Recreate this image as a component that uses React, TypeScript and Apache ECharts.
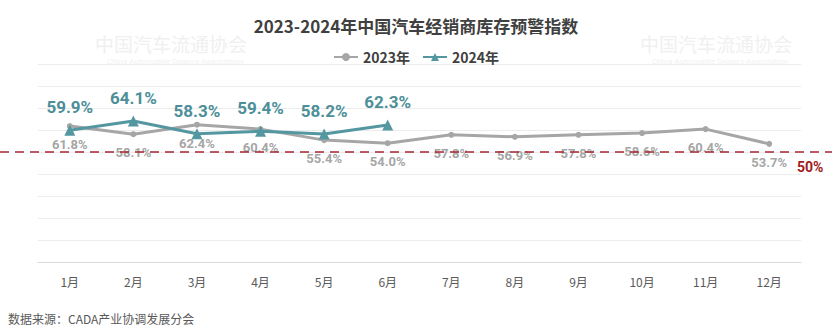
import React, { useEffect, useRef } from "react";
import * as echarts from "echarts";

const categories = ["1月", "2月", "3月", "4月", "5月", "6月", "7月", "8月", "9月", "10月", "11月", "12月"];
const values2023 = [61.8, 58.1, 62.4, 60.4, 55.4, 54.0, 57.8, 56.9, 57.8, 58.6, 60.4, 53.7];
const values2024 = [59.9, 64.1, 58.3, 59.4, 58.2, 62.3];
const warnLevel = 50;
const titleText = "2023-2024年中国汽车经销商库存预警指数";
const sourceText = "数据来源：CADA产业协调发展分会";
const watermarkCn = "中国汽车流通协会";
const watermarkEn = "China Automobile Dealers Association";

const NUM = '"Roboto", "Liberation Sans", sans-serif';
const CJK = '"Noto Sans CJK SC", "Noto Sans", sans-serif';

const watermarkPos = [
  [95, 34], [640, 34],
];

export default function App() {
  const ref = useRef<HTMLDivElement>(null);
  useEffect(() => {
    if (!ref.current) return;
    const chart = echarts.init(ref.current, null, { renderer: "svg" });
    const watermarks: any[] = [];
    watermarkPos.forEach(([x, y]) => {
      watermarks.push({
        type: "text", x, y, silent: true, z: 0,
        style: { text: watermarkCn, fontSize: 19, fontFamily: CJK, fill: "#f0f0f0" },
      });
      watermarks.push({
        type: "text", x: x + 12, y: y + 23, silent: true, z: 0,
        style: { text: watermarkEn, fontSize: 8, fontFamily: NUM, fill: "#f2f2f2" },
      });
    });
    chart.setOption({
      animation: false,
      backgroundColor: "#ffffff",
      title: {
        text: titleText,
        left: "center",
        top: 12,
        textStyle: { fontSize: 17, fontWeight: "bold", color: "#404040", fontFamily: CJK },
      },
      legend: {
        top: 45,
        left: "center",
        itemWidth: 24,
        itemHeight: 10,
        itemGap: 12,
        textStyle: { fontSize: 14, fontWeight: "bold", color: "#404040", fontFamily: CJK },
        data: ["2023年", "2024年"],
      },
      grid: { left: 38, right: 31, top: 64, bottom: 70 },
      xAxis: {
        type: "category",
        data: categories,
        axisLine: { lineStyle: { color: "#d9d9d9", width: 1 } },
        axisTick: { show: false },
        axisLabel: { color: "#595959", fontSize: 12, margin: 13, fontFamily: CJK },
      },
      yAxis: {
        type: "value",
        min: 0,
        max: 90,
        interval: 10,
        axisLabel: { show: false },
        axisLine: { show: false },
        axisTick: { show: false },
        splitLine: { lineStyle: { color: "#ececec", width: 1 } },
      },
      series: [
        {
          name: "2023年",
          type: "line",
          data: values2023,
          z: 2,
          symbol: "circle",
          symbolSize: 6,
          lineStyle: { color: "#a6a6a6", width: 3 },
          itemStyle: { color: "#a6a6a6" },
          label: {
            show: true,
            position: "bottom",
            distance: 9,
            formatter: (p: any) => p.value.toFixed(1) + "%",
            color: "#a6a6a6",
            fontSize: 13,
            fontWeight: "bold",
            fontFamily: NUM,
          },
        },
        {
          name: "2024年",
          type: "line",
          data: values2024,
          z: 3,
          symbol: "triangle",
          symbolSize: 11,
          lineStyle: { color: "#5497a0", width: 3 },
          itemStyle: { color: "#5497a0" },
          label: {
            show: true,
            position: "top",
            distance: 9,
            formatter: (p: any) => p.value.toFixed(1) + "%",
            color: "#4d8f98",
            fontSize: 17,
            fontWeight: "bold",
            fontFamily: NUM,
          },
        },
      ],
      graphic: watermarks,
    });
    const y50 = chart.convertToPixel({ yAxisIndex: 0 }, warnLevel) as number;
    chart.setOption({
      graphic: [
        ...watermarks,
        {
          type: "line", z: 10, silent: true,
          shape: { x1: 0, y1: y50, x2: 832, y2: y50 },
          style: { stroke: "#a3262c", lineWidth: 1.5, lineDash: [9, 6] },
        },
        {
          type: "text", z: 10, x: 797, y: y50 + 8, silent: true,
          style: { text: warnLevel + "%", fontSize: 14, fontWeight: "bold", fill: "#a01c22", fontFamily: NUM },
        },
        {
          type: "text", z: 10, x: 8, y: 312, silent: true,
          style: { text: sourceText, fontSize: 12, fill: "#595959", fontFamily: CJK },
        },
      ],
    });
    return () => chart.dispose();
  }, []);
  return <div ref={ref} style={{ width: 832, height: 332, position: "absolute", left: 0, top: 0 }} />;
}
